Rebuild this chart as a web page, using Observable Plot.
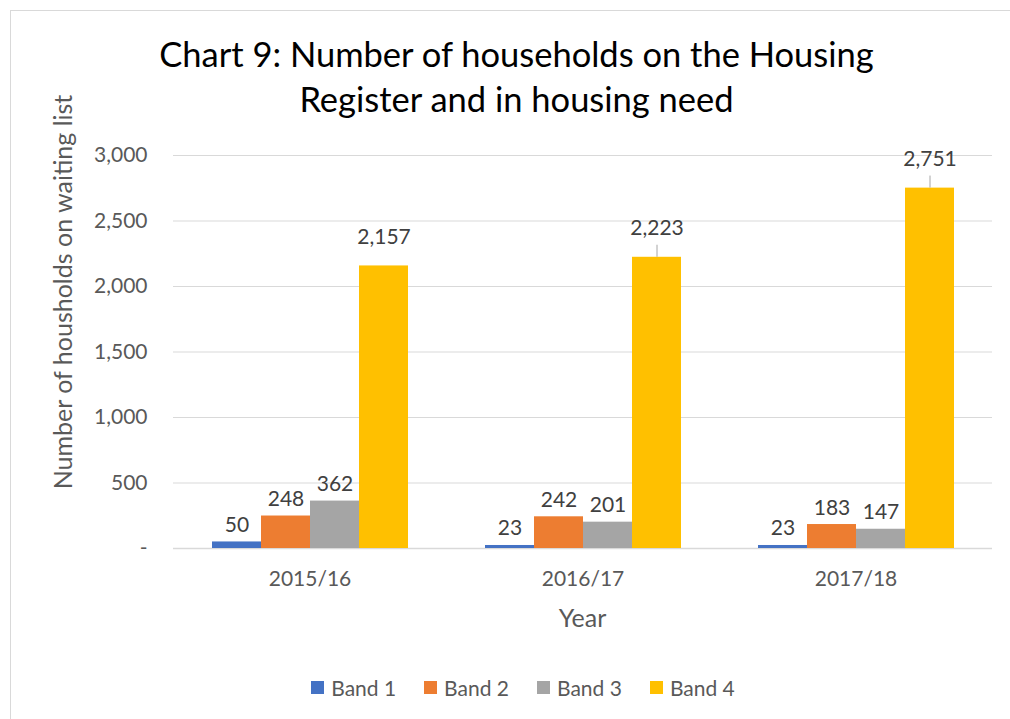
<!DOCTYPE html>
<html>
<head>
<meta charset="utf-8">
<script src="https://cdn.jsdelivr.net/npm/d3@7"></script>
<script src="https://cdn.jsdelivr.net/npm/@observablehq/plot@0.6"></script>
<style>
  html, body { margin: 0; padding: 0; background: #fff; }
  body { width: 1010px; height: 719px; position: relative; overflow: hidden; font-family: Lato, "Open Sans", sans-serif; }
  #frame { position: absolute; left: 10px; top: 10px; width: 1100px; height: 800px; border: 1px solid #d9d9d9; box-sizing: border-box; }
  #title { position: absolute; left: 0; top: 31px; width: 1033px; text-align: center; font-size: 34.5px; line-height: 45px; color: #000; }
  #ylabel { position: absolute; left: 62px; top: 292px; transform: translate(-50%, -50%) rotate(-90deg); white-space: nowrap; font-size: 25px; color: #595959; }
  #chart { position: absolute; left: 0; top: 130px; }
  #legend { position: absolute; left: 0; top: 675px; width: 1046px; display: flex; justify-content: center; gap: 28px; font-size: 21px; color: #595959; }
  #legend span.item { display: flex; align-items: center; gap: 7px; }
  #legend span.sw { width: 13px; height: 13px; display: inline-block; }
</style>
</head>
<body>
<div id="frame"></div>
<div id="title">Chart 9: Number of households on the Housing<br>Register and in housing need</div>
<div id="ylabel">Number of housholds on waiting list</div>
<div id="chart"></div>
<div id="legend"></div>
<script>
const years = ["2015/16", "2016/17", "2017/18"];
const bands = ["Band 1", "Band 2", "Band 3", "Band 4"];
const band1 = [50, 23, 23];
const band2 = [248, 242, 183];
const band3 = [362, 201, 147];
const band4 = [2157, 2223, 2751];
const colors = ["#4472C4", "#ED7D31", "#A5A5A5", "#FFC000"];
const yTicks = [0, 500, 1000, 1500, 2000, 2500, 3000];
const leaderYears = ["2016/17", "2017/18"];

const series = [band1, band2, band3, band4];
const data = [];
years.forEach((yr, i) => bands.forEach((b, j) => data.push({year: yr, band: b, value: series[j][i]})));
const small = data.filter(d => d.band !== "Band 4");
const big = data.filter(d => d.band === "Band 4");
const leaders = big.filter(d => leaderYears.includes(d.year));
const fmt = d3.format(",");

const chart = Plot.plot({
  width: 1010,
  height: 510,
  marginTop: 25,
  marginBottom: 92,
  marginLeft: 172,
  marginRight: 17,
  style: {fontFamily: "Lato, 'Open Sans', sans-serif", fontSize: "21px", color: "#595959", background: "transparent"},
  fx: {domain: years, padding: 0, label: null},
  x: {domain: bands, paddingInner: 0, paddingOuter: 0.743, axis: null},
  y: {domain: [0, 3000], ticks: yTicks, label: null},
  color: {domain: bands, range: colors},
  marks: [
    Plot.gridY(yTicks.filter(t => t > 0), {stroke: "#d9d9d9", strokeOpacity: 1, strokeWidth: 1}),
    Plot.ruleY([0], {stroke: "#d9d9d9", strokeWidth: 1.5}),
    Plot.barY(data, {fx: "year", x: "band", y: "value", fill: "band"}),
    Plot.text(small, {fx: "year", x: "band", y: "value", text: d => fmt(d.value), lineAnchor: "bottom", dy: -10, fill: "#404040", fontSize: 21}),
    Plot.text(big, {fx: "year", x: "band", y: "value", text: d => fmt(d.value), lineAnchor: "bottom", dy: -22, fill: "#404040", fontSize: 21}),
    Plot.ruleX(leaders, {fx: "year", x: "band", y1: "value", y2: d => d.value + 92, stroke: "#a6a6a6", strokeWidth: 1}),
    Plot.axisY({ticks: yTicks, tickSize: 0, tickPadding: 26, tickFormat: d => d === 0 ? "-" : fmt(d), fill: "#595959", fontSize: 21, label: null}),
    Plot.axisFx({anchor: "bottom", tickSize: 0, tickPadding: 23, fill: "#595959", fontSize: 21, label: null})
  ]
});
document.getElementById("chart").appendChild(chart);

// x-axis title as real SVG text below the facet labels
const svg = d3.select(chart);
svg.append("text")
  .attr("x", 172 + (1010 - 172 - 17) / 2)
  .attr("y", 491)
  .attr("text-anchor", "middle")
  .attr("dominant-baseline", "middle")
  .attr("fill", "#595959")
  .attr("font-size", 25)
  .text("Year");

const legend = document.getElementById("legend");
bands.forEach((b, i) => {
  const item = document.createElement("span");
  item.className = "item";
  const sw = document.createElement("span");
  sw.className = "sw";
  sw.style.background = colors[i];
  const t = document.createElement("span");
  t.textContent = b;
  item.appendChild(sw);
  item.appendChild(t);
  legend.appendChild(item);
});
</script>
</body>
</html>
